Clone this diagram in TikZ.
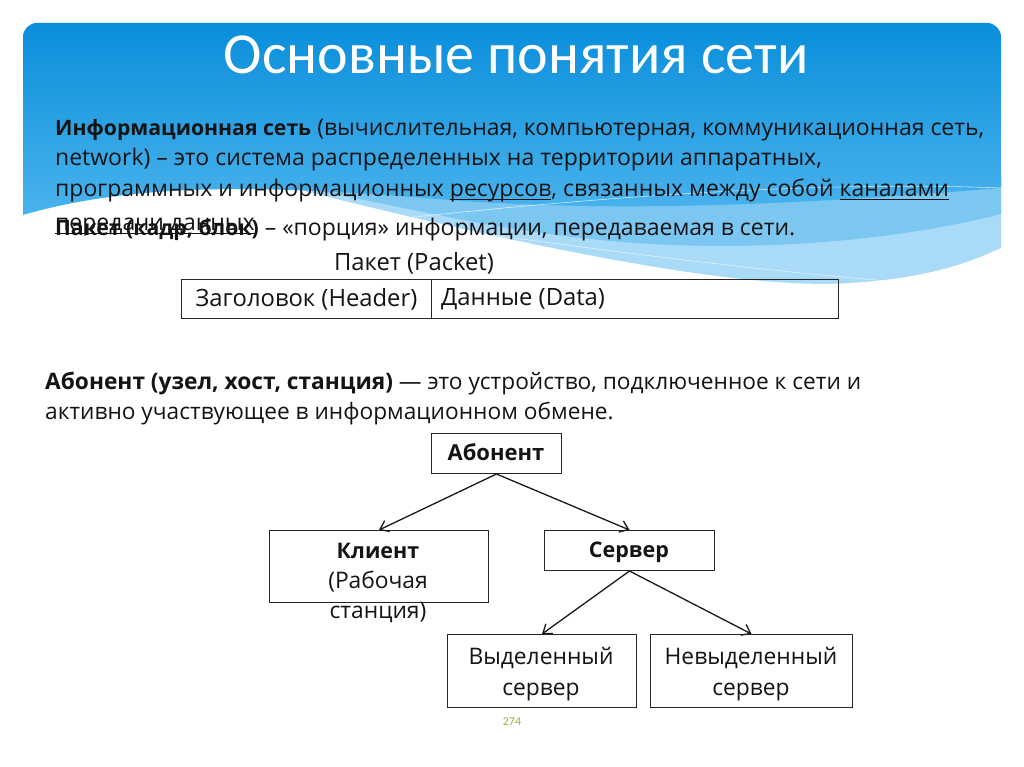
\documentclass[tikz,border=0pt]{standalone}
\usepackage{fontspec}
\setmainfont{Open Sans}
\newfontfamily\titlefont{Carlito}
\newcommand\myul[1]{\setbox0\hbox{#1}\rlap{\rule[-3pt]{\wd0}{0.8pt}}\box0}
\newcommand\bfx[1]{{\fontsize{21.2}{25}\selectfont\bfseries #1}}
\usetikzlibrary{arrows.meta}
\definecolor{txt}{HTML}{141414}
\definecolor{blueTop}{HTML}{0A8EDB}
\definecolor{blueBot}{HTML}{4AB3ED}
\definecolor{bandA}{HTML}{7CC6F2}
\definecolor{bandB}{HTML}{A9DBF8}
\definecolor{pagegreen}{HTML}{92B83A}
\tikzset{
  body/.style={inner sep=0pt, anchor=base west, text=txt, font=\fontsize{23}{27}\selectfont},
  boxnode/.style={draw=black!85, line width=1pt, inner sep=0pt},
  boxtext/.style={inner sep=0pt, anchor=base, text=txt, font=\fontsize{22.8}{27}\selectfont},
  boldtext/.style={inner sep=0pt, anchor=base, text=txt, font=\bfseries\fontsize{21.5}{25}\selectfont},
  pkttext/.style={inner sep=0pt, text=txt, font=\fontsize{23.8}{28}\selectfont},
  arr/.style={draw=black!90, line width=1.3pt, -{Straight Barb[length=8pt,width=12pt]}},
}
\begin{document}
\begin{tikzpicture}[x=1pt,y=-1pt]
\useasboundingbox (0,0) rectangle (1024,767);
\fill[white] (0,0) rectangle (1024,767);
% header decoration
\fill[bandB] (300,190) .. controls (600,200) and (850,185) .. (1001,175) -- (1001,248)
  .. controls (970,262) and (930,278) .. (850,283) .. controls (750,290) and (560,255) .. (300,190) -- cycle;
\fill[bandA] (300,188) .. controls (600,198) and (850,185) .. (1001,175) -- (1001,214)
  .. controls (900,240) and (750,255) .. (600,240) .. controls (480,228) and (400,205) .. (300,188) -- cycle;
\shade[top color=blueTop, bottom color=blueBot]
  (23,215) -- (23,37) arc[start angle=180,end angle=270,radius=14] -- (987,23)
  arc[start angle=270,end angle=360,radius=14] -- (1001,188)
  .. controls (850,200) and (650,215) .. (450,200)
  .. controls (300,188) and (150,178) .. (23,215) -- cycle;
\draw[white, opacity=0.7, line width=0.6pt] (300,230) .. controls (550,200) and (800,180) .. (1001,188);
\draw[white, opacity=0.6, line width=0.6pt] (420,225) .. controls (600,250) and (750,270) .. (900,282);
% title
\node[inner sep=0pt, text=white, font=\titlefont\fontsize{58}{62}\selectfont] (title) at (516,55) {Основные понятия сети};
% paragraph
\node[body] (l1) at (55,136) {\bfx{Информационная сеть} (вычислительная, компьютерная, коммуникационная сеть,};
\node[body] (l2) at (55,166) {network) – это система распределенных на территории аппаратных,};
\node[body] (l3) at (55,197) {программных и информационных \myul{ресурсов}, связанных между собой \myul{каналами}};
\node[body] (l4) at (55,231) {\myul{передачи данных}};
\node[body] (l5) at (55,236) {\bfx{Пакет (кадр, блок)} – «порция» информации, передаваемая в сети.};
% packet
\node[pkttext, anchor=base] (pk) at (414,270) {Пакет (Packet)};
\node[boxnode, minimum width=250pt, minimum height=39pt, anchor=north west] (hdr) at (181,279) {};
\node[boxnode, minimum width=407pt, minimum height=39pt, anchor=north west] (data) at (431,279) {};
\node[pkttext] (hdrt) at (hdr.center) {Заголовок (Header)};
\node[pkttext, anchor=west] (datat) at ([xshift=10pt]data.west) {Данные (Data)};
% abonent definition
\node[body, font=\fontsize{22.7}{27}\selectfont] (a1) at (45,389) {\textbf{Абонент (узел, хост, станция)} — это устройство, подключенное к сети и};
\node[body, font=\fontsize{22.7}{27}\selectfont] (a2) at (45,419) {активно участвующее в информационном обмене.};
% tree
\node[boxnode, minimum width=130pt, minimum height=40pt, anchor=north west] (ab) at (431,433) {};
\node[boldtext, font=\bfseries\fontsize{22}{25}\selectfont] (abt) at (496,460) {Абонент};
\node[boxnode, minimum width=219pt, minimum height=72pt, anchor=north west] (kl) at (269,530) {};
\node[boldtext] (klt1) at (378,558) {Клиент};
\node[boxtext] (klt2) at (378,588) {(Рабочая};
\node[boxtext] (klt3) at (378,618) {станция)};
\node[boxnode, minimum width=170pt, minimum height=40pt, anchor=north west] (sv) at (544,530) {};
\node[boldtext] (svt) at (629,557) {Сервер};
\node[boxnode, minimum width=189pt, minimum height=73pt, anchor=north west] (ds) at (447,634) {};
\node[boxtext] (dst1) at (541,664) {Выделенный};
\node[boxtext] (dst2) at (541,695) {сервер};
\node[boxnode, minimum width=202pt, minimum height=73pt, anchor=north west] (nds) at (650,634) {};
\node[boxtext] (ndst1) at (751,664) {Невыделенный};
\node[boxtext] (ndst2) at (751,695) {сервер};
\draw[arr] (ab.south) -- (kl.north);
\draw[arr] (ab.south) -- (sv.north);
\draw[arr] (sv.south) -- (ds.north);
\draw[arr] (sv.south) -- (nds.north);
\node[inner sep=0pt, text=pagegreen, font=\titlefont\fontsize{12}{13}\selectfont] (pg) at (512,722) {274};
\end{tikzpicture}
\end{document}
